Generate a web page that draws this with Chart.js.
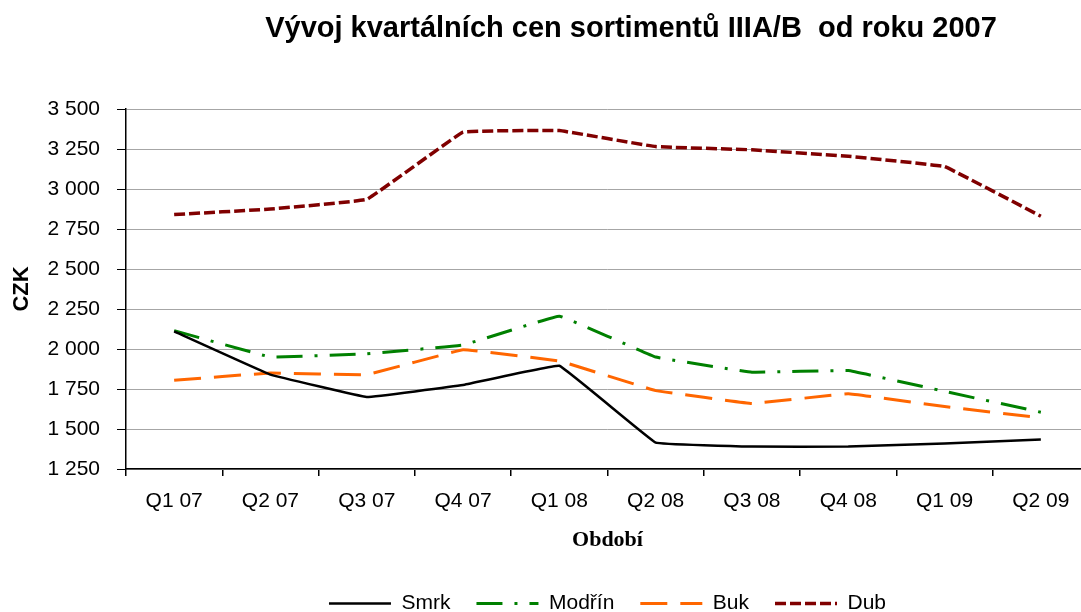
<!DOCTYPE html>
<html>
<head>
<meta charset="utf-8">
<script src="https://cdn.jsdelivr.net/npm/chart.js@4/dist/chart.umd.min.js"></script>
<style>
  html, body { margin: 0; padding: 0; background: #fff; overflow: hidden; }
  #wrap { width: 1081px; height: 612px; overflow: hidden; position: relative; background: #fff; }
  canvas { display: block; }
</style>
</head>
<body>
<div id="wrap"><canvas id="c" width="1100" height="624"></canvas></div>
<script>
const chartTitle = 'Vývoj kvartálních cen sortimentů IIIA/B  od roku 2007';
const categories = ['Q1 07', 'Q2 07', 'Q3 07', 'Q4 07', 'Q1 08', 'Q2 08', 'Q3 08', 'Q4 08', 'Q1 09', 'Q2 09'];
const smrk   = [2110, 1840, 1700, 1775, 1895, 1415, 1390, 1390, 1410, 1435];
const modrin = [2115, 1950, 1970, 2025, 2205, 1950, 1855, 1865, 1735, 1605];
const buk    = [1805, 1850, 1840, 1995, 1925, 1740, 1660, 1720, 1640, 1570];
const dub    = [2840, 2875, 2935, 3355, 3365, 3265, 3245, 3205, 3140, 2830];
const seriesNames = ['Smrk', 'Modřín', 'Buk', 'Dub'];
const yTitle = 'CZK';
const xTitle = 'Období';

const fmt = v => String(v).replace(/\B(?=(\d{3})+(?!\d))/g, ' ');

const titlePlugin = {
  id: 'customTitle',
  afterDraw(chart) {
    const ctx = chart.ctx;
    ctx.save();
    ctx.font = 'bold 29px "Liberation Sans", Arial, sans-serif';
    ctx.fillStyle = '#000';
    ctx.textAlign = 'center';
    ctx.textBaseline = 'middle';
    ctx.fillText(chartTitle, 631, 29);
    ctx.restore();
  }
};

const common = { fill: false, pointRadius: 0, pointHoverRadius: 0, tension: 0.05, pointStyle: 'line', borderCapStyle: 'butt', borderJoinStyle: 'round' };

new Chart(document.getElementById('c'), {
  type: 'line',
  data: {
    labels: categories,
    datasets: [
      Object.assign({ label: seriesNames[0], data: smrk, borderColor: '#000000', backgroundColor: '#000000', borderWidth: 2.5 }, common),
      Object.assign({ label: seriesNames[1], data: modrin, borderColor: '#008000', backgroundColor: '#008000', borderWidth: 3, borderDash: [26, 12, 3, 12] }, common),
      Object.assign({ label: seriesNames[2], data: buk, borderColor: '#ff6600', backgroundColor: '#ff6600', borderWidth: 3, borderDash: [27, 13] }, common),
      Object.assign({ label: seriesNames[3], data: dub, borderColor: '#800000', backgroundColor: '#800000', borderWidth: 3.5, borderDash: [11, 4] }, common)
    ]
  },
  options: {
    responsive: false,
    animation: false,
    devicePixelRatio: 1,
    layout: { padding: { top: 109, left: 0, right: 11, bottom: 0 } },
    plugins: {
      title: { display: false },
      tooltip: { enabled: false },
      legend: {
        position: 'bottom',
        fullSize: false,
        labels: {
          usePointStyle: true,
          pointStyleWidth: 62,
          boxWidth: 62,
          padding: 26,
          color: '#000',
          font: { family: '"Liberation Sans", Arial, sans-serif', size: 21 },
          generateLabels(chart) {
            const items = Chart.defaults.plugins.legend.labels.generateLabels(chart);
            items.forEach(it => {
              const ds = chart.data.datasets[it.datasetIndex];
              it.lineDash = ds.borderDash || [];
              it.lineWidth = ds.borderWidth;
              it.strokeStyle = ds.borderColor;
              it.fillStyle = ds.borderColor;
              it.lineCap = 'butt';
            });
            return items;
          }
        }
      }
    },
    scales: {
      x: {
        type: 'category',
        offset: true,
        afterFit(scale) { scale.height = 98; },
        grid: { display: true, drawOnChartArea: false, drawTicks: true, tickLength: 7, tickColor: '#000', offset: true, lineWidth: 1.5 },
        border: { display: true, color: '#000', width: 1.5 },
        ticks: { color: '#000', padding: 13, maxRotation: 0, autoSkip: false, font: { family: '"Liberation Sans", Arial, sans-serif', size: 21 } },
        title: { display: true, text: xTitle, color: '#000', padding: { top: 0, bottom: 13 }, font: { family: '"Liberation Serif", "Times New Roman", serif', size: 22, weight: 'bold' } }
      },
      y: {
        min: 1250,
        max: 3500,
        afterFit(scale) { scale.width = 126; },
        grid: { color: '#a6a6a6', lineWidth: 1, drawTicks: true, tickLength: 9, tickColor: '#000' },
        border: { display: true, color: '#000', width: 1.5 },
        ticks: { stepSize: 250, color: '#000', padding: 17, callback: v => fmt(v), font: { family: '"Liberation Sans", Arial, sans-serif', size: 21 } },
        title: { display: true, text: yTitle, color: '#000', padding: { top: 9, bottom: 0 }, font: { family: '"Liberation Sans", Arial, sans-serif', size: 22, weight: 'bold' } }
      }
    }
  },
  plugins: [titlePlugin]
});
</script>
</body>
</html>
